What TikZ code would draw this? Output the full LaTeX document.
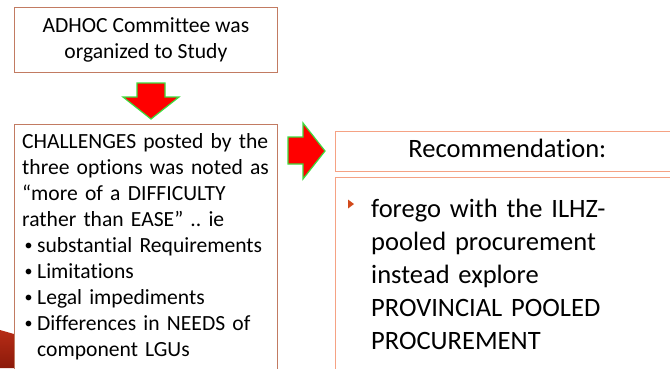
\documentclass[tikz,border=0pt]{standalone}
\usepackage{fontspec}
\setmainfont{Carlito}[Ligatures=NoCommon]
\usetikzlibrary{positioning}
\frenchspacing

\definecolor{boxbrown}{HTML}{C27B62}
\definecolor{boxsalmon}{HTML}{F5A284}
\definecolor{arrowred}{HTML}{FF0000}
\definecolor{arrowgreen}{HTML}{3DDC3D}
\definecolor{bulletred}{HTML}{D24A1C}

\newcommand{\dotitem}{\makebox[15pt][l]{\hspace{2.5pt}\raisebox{1.5pt}{\fontsize{16}{16}\selectfont•}}}

\begin{document}
\begin{tikzpicture}[x=1pt, y=-1pt,
    leftbox/.style={draw=boxbrown, line width=0.8pt, fill=white, anchor=north west, inner sep=0pt},
    rightbox/.style={draw=boxsalmon, line width=0.8pt, fill=white, anchor=north west, inner sep=0pt},
    lefttext/.style={anchor=base west, inner sep=0pt, align=left, text width=400pt, font=\fontsize{21.6}{26}\selectfont},
    righttext/.style={anchor=base west, inner sep=0pt, align=left, text width=400pt, font=\fontsize{26.5}{33}\selectfont},
    blockarrow/.style={fill=arrowred, draw=arrowgreen, line width=1.2pt, line join=miter}]

    % Frame
    \useasboundingbox (0,0) rectangle (670,368);
    \clip (0,0) rectangle (670,368);
    \fill[white] (0,0) rectangle (670,368);

    % Corner shape
    \shade[top color={rgb,255:red,182;green,44;blue,22}, bottom color={rgb,255:red,140;green,26;blue,10}]
        (0,330) -- (14,334) -- (14,368) -- (0,368) -- cycle;

    % Left boxes
    \node[leftbox, minimum width=263pt, minimum height=65pt, align=center,
          font=\fontsize{21.6}{26}\selectfont] (adhoc) at (14,7) {ADHOC Committee was\\organized to Study};
    \node[leftbox, minimum width=263pt, minimum height=260pt] (challenges) at (14,124) {};
    \node[lefttext] (challengestext) at (22,148) {CHALLENGES posted by the\\
        three options was noted as\\
        “more of a DIFFICULTY\\
        rather than EASE” .. ie\\
        \dotitem substantial Requirements\\
        \dotitem Limitations\\
        \dotitem Legal impediments\\
        \dotitem Differences in NEEDS of\\
        \hspace*{15pt}component LGUs};

    % Right boxes
    \node[rightbox, minimum width=344pt, minimum height=40pt, text depth=6pt,
          font=\fontsize{26.5}{33}\selectfont] (recommend) at (335,131) {Recommendation:};
    \node[rightbox, minimum width=344pt, minimum height=200pt] (body) at (335,177) {};
    \node[righttext] (bodytext) at (371,217) {forego with the ILHZ-\\
        pooled procurement\\
        instead explore\\
        PROVINCIAL POOLED\\
        PROCUREMENT};
    \fill[bulletred] (348,199.5) -- (354,204) -- (348,208.5) -- cycle;

    % Block arrows
    \draw[blockarrow] (137,83) -- (165,83) -- (165,97) -- (179,97) -- (151,119)
        -- (123,97) -- (137,97) -- cycle;
    \draw[blockarrow] (288,137) -- (303,137) -- (303,123) -- (325,151) -- (303,179)
        -- (303,164) -- (288,164) -- cycle;
\end{tikzpicture}
\end{document}
